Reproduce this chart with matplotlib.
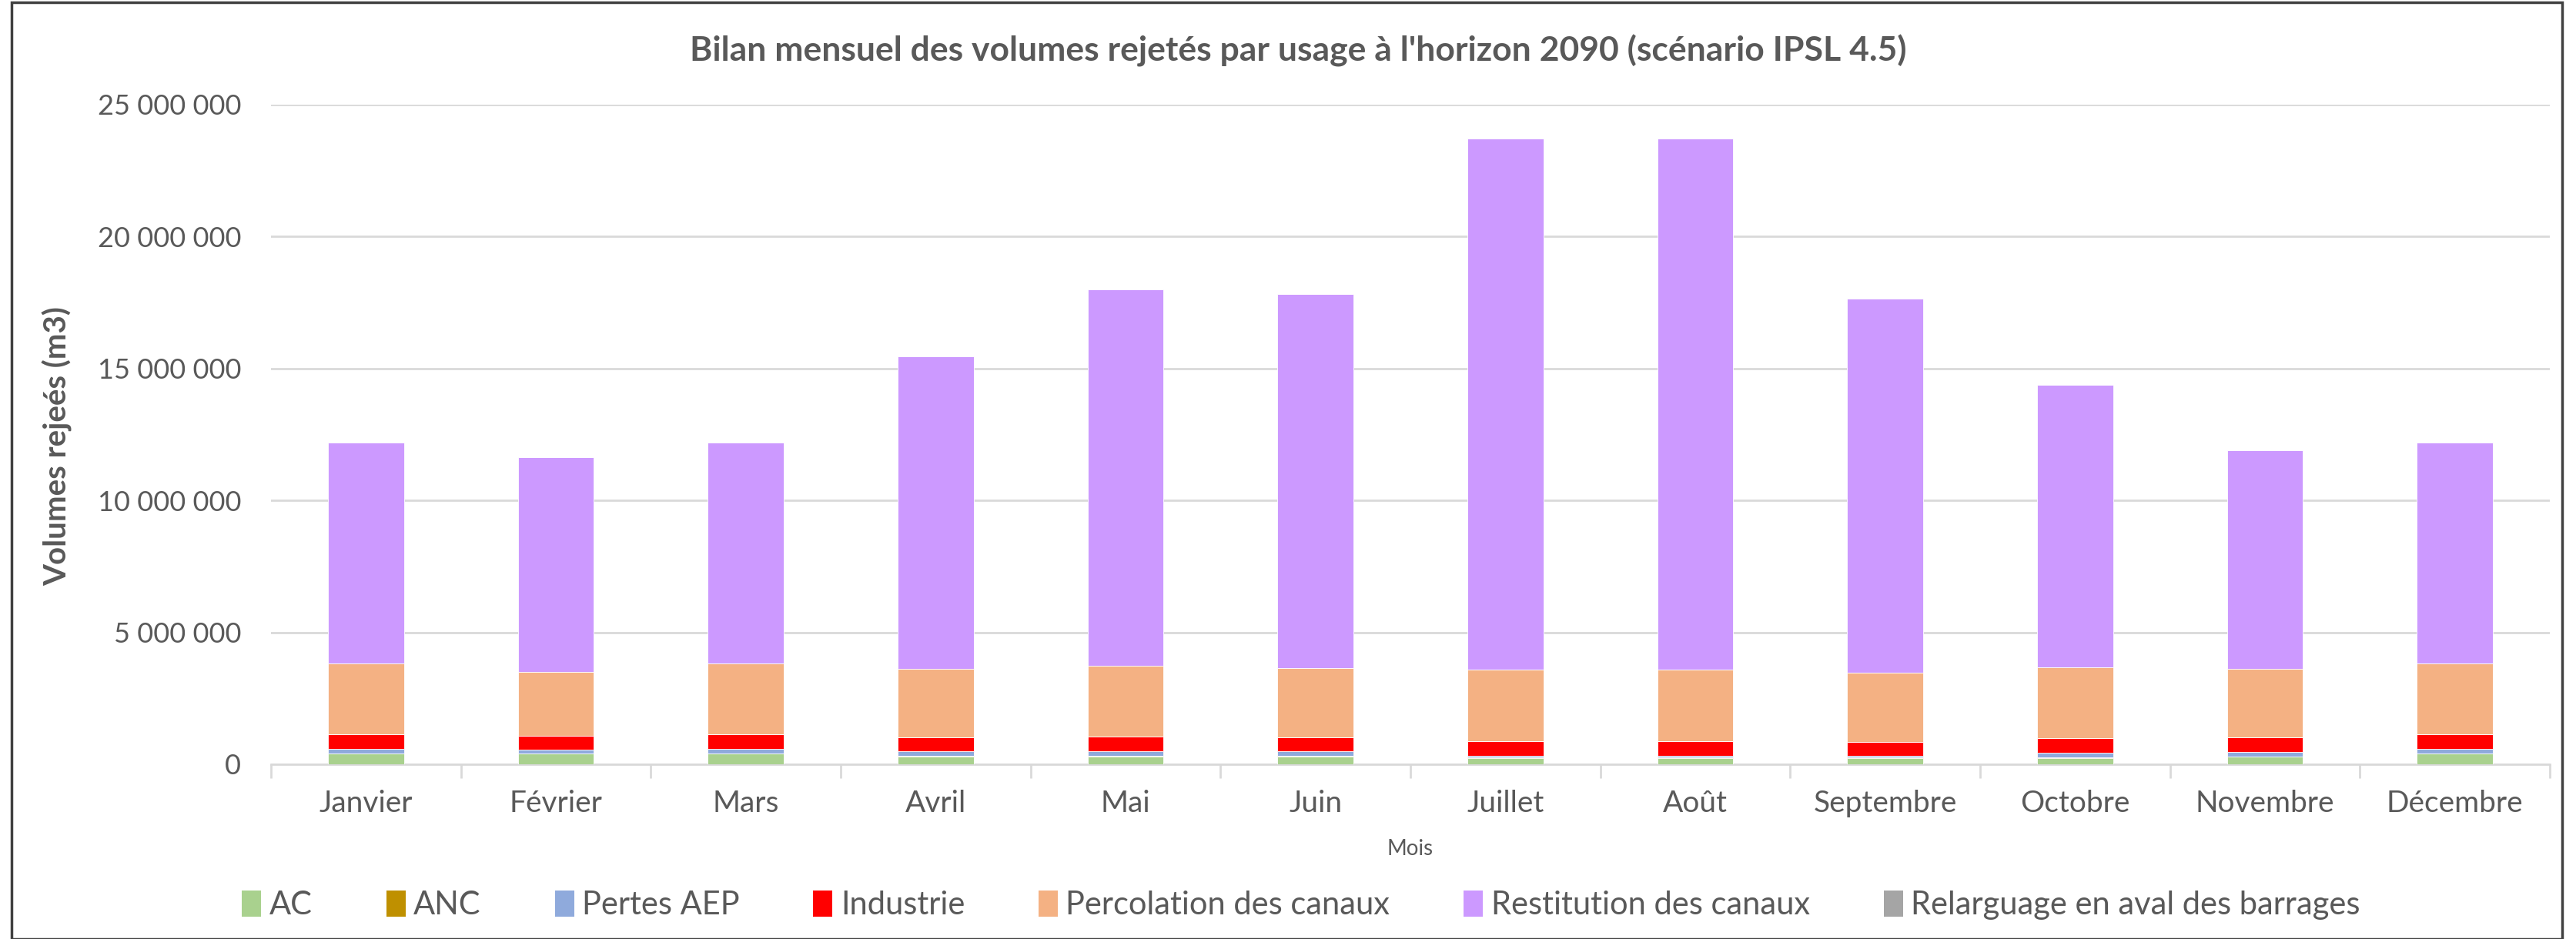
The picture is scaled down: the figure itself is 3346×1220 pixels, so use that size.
import numpy as np
import matplotlib.pyplot as plt
from matplotlib.patches import Patch, Rectangle
from matplotlib.ticker import FuncFormatter, FixedLocator

plt.rcParams['font.family'] = ['Lato', 'DejaVu Sans']

mois = ["Janvier", "Février", "Mars", "Avril", "Mai", "Juin", "Juillet", "Août",
        "Septembre", "Octobre", "Novembre", "Décembre"]

# volumes en millions de m3
ac = [0.42, 0.42, 0.42, 0.29, 0.29, 0.29, 0.23, 0.23, 0.23, 0.23, 0.29, 0.41]
anc = [0.00, 0.00, 0.00, 0.03, 0.03, 0.03, 0.04, 0.04, 0.04, 0.04, 0.01, 0.01]
pertes_aep = [0.16, 0.14, 0.16, 0.17, 0.17, 0.17, 0.05, 0.05, 0.05, 0.17, 0.17, 0.16]
industrie = [0.57, 0.51, 0.57, 0.54, 0.56, 0.53, 0.56, 0.56, 0.54, 0.54, 0.54, 0.57]
percolation = [2.68, 2.44, 2.68, 2.60, 2.69, 2.62, 2.71, 2.71, 2.60, 2.71, 2.60, 2.68]
restitution = [8.37, 8.13, 8.37, 11.82, 14.26, 14.17, 20.12, 20.12, 14.18, 10.70, 8.30, 8.37]
relarguage = [0.0] * 12

series = [
    ("AC", ac, "#a9d18e"),
    ("ANC", anc, "#bf9000"),
    ("Pertes AEP", pertes_aep, "#8faadc"),
    ("Industrie", industrie, "#ff0000"),
    ("Percolation des canaux", percolation, "#f4b183"),
    ("Restitution des canaux", restitution, "#cc99ff"),
    ("Relarguage en aval des barrages", relarguage, "#a5a5a5"),
]

txt = "#595959"
grid = "#d9d9d9"

fig = plt.figure(figsize=(33.46, 12.20), dpi=100)
ax = fig.add_axes([352 / 3346, 1 - 993 / 1220, (3312 - 352) / 3346, (993 - 136) / 1220])

x = np.arange(len(mois))
bottom = np.zeros(len(mois))
for nom, vals, col in series:
    v = np.array(vals) * 1e6
    ax.bar(x, v, 0.40, bottom=bottom, color=col, edgecolor="white", linewidth=0.6, zorder=3)
    bottom += v

ax.set_xlim(-0.5, 11.5)
ax.set_ylim(0, 25e6)
ax.set_yticks(np.arange(0, 25e6 + 1, 5e6))
ax.yaxis.set_major_formatter(FuncFormatter(lambda v, p: f"{int(v):,}".replace(",", " ")))
ax.grid(axis="y", color=grid, linewidth=2, zorder=0)
ax.tick_params(axis="y", length=0, pad=28, labelsize=26, labelcolor=txt)

ax.set_xticks(x)
ax.set_xticklabels(mois)
ax.tick_params(axis="x", which="major", length=0, pad=24, labelsize=28, labelcolor=txt)
ax.xaxis.set_minor_locator(FixedLocator(np.arange(-0.5, 12, 1)))
ax.tick_params(axis="x", which="minor", length=13, width=2, color=grid)

for s in ["top", "right", "left"]:
    ax.spines[s].set_visible(False)
ax.spines["bottom"].set_color(grid)
ax.spines["bottom"].set_linewidth(2)

fig.text(1686 / 3346, 1 - 66 / 1220, "Bilan mensuel des volumes rejetés par usage à l'horizon 2090 (scénario IPSL 4.5)",
         ha="center", va="center", fontsize=32, fontweight="bold", color=txt)
fig.text(75 / 3346, 1 - 580 / 1220, "Volumes rejeés (m3)", rotation=90, ha="center", va="center",
         fontsize=29, fontweight="bold", color=txt)
fig.text(1832 / 3346, 1 - 1103 / 1220, "Mois", ha="center", va="center", fontsize=20, color=txt)

handles = [Patch(facecolor=c, edgecolor="none") for _, _, c in series]
labels = [n for n, _, _ in series]
leg = fig.legend(handles, labels, loc="center", bbox_to_anchor=(1690 / 3346, 1 - 1176 / 1220), ncol=7,
                 frameon=False, fontsize=30, handlelength=0.6, handleheight=0.9, handletextpad=0.25,
                 columnspacing=2.3, labelcolor=txt)

fig.patches.append(Rectangle((15 / 3346, 0), (3328 - 15) / 3346, 1 - 3 / 1220, transform=fig.transFigure,
                             fill=False, edgecolor="#404040", linewidth=2.5))

fig.savefig("out.png", dpi=100)
